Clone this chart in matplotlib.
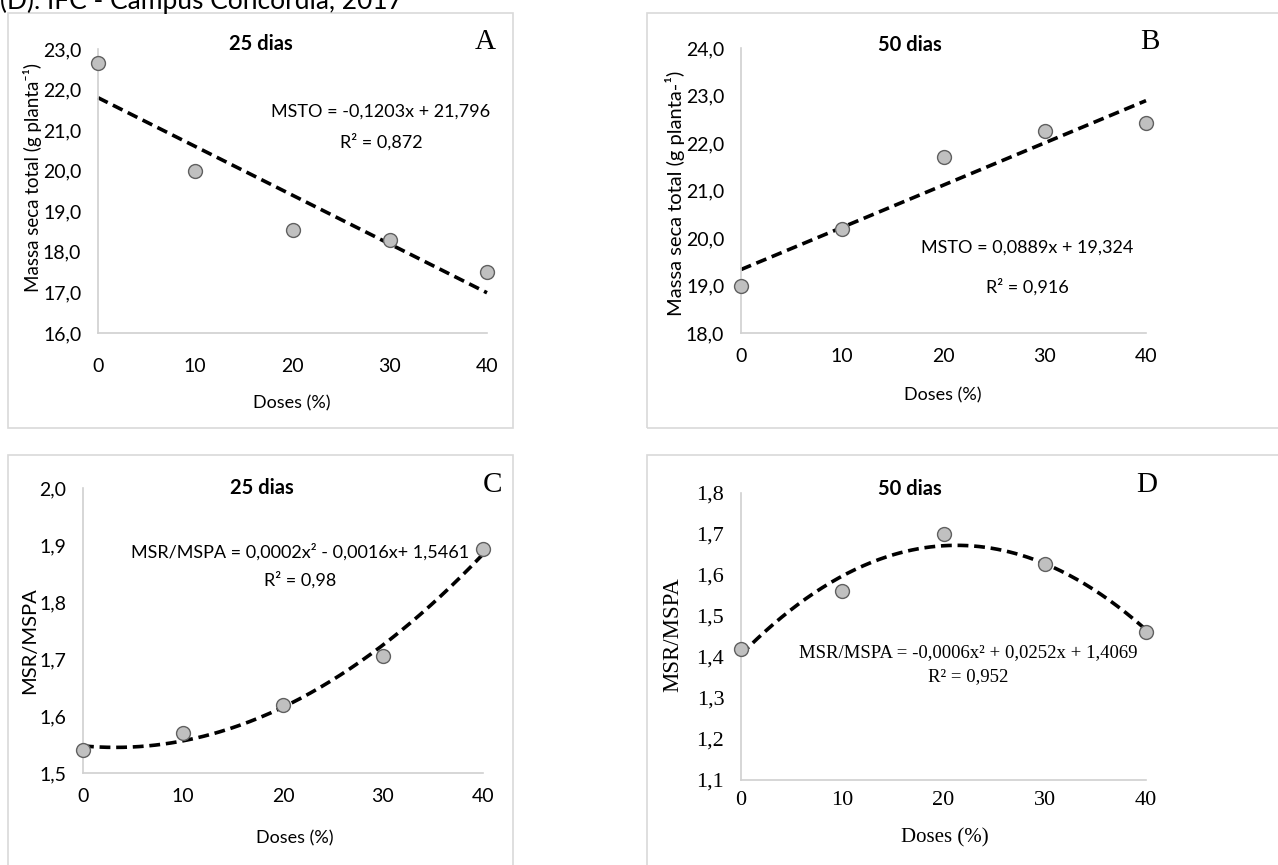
import numpy as np
import matplotlib.pyplot as plt
from matplotlib.patches import Rectangle
from matplotlib.ticker import FixedLocator

W, H = 1278, 865

# dados
doses = [0, 10, 20, 30, 40]
msto_25 = [22.65, 20.0, 18.55, 18.28, 17.5]
msto_50 = [19.0, 20.2, 21.7, 22.25, 22.42]
rel_25 = [1.54, 1.57, 1.62, 1.705, 1.893]
rel_50 = [1.42, 1.56, 1.70, 1.627, 1.462]

yt_a = [16.0, 17.0, 18.0, 19.0, 20.0, 21.0, 22.0, 23.0]
yt_b = [18.0, 19.0, 20.0, 21.0, 22.0, 23.0, 24.0]
yt_c = [1.5, 1.6, 1.7, 1.8, 1.9, 2.0]
yt_d = [1.1, 1.2, 1.3, 1.4, 1.5, 1.6, 1.7, 1.8]

SANS = ['Lato', 'DejaVu Sans']
SERIF = ['Liberation Serif', 'DejaVu Serif']
GRID = '#d0d0d0'


def px_axes(fig, x0, y0, x1, y1):
    # coordenadas em pixels (origem no topo)
    return fig.add_axes([x0 / W, 1 - y1 / H, (x1 - x0) / W, (y1 - y0) / H])


def ftext(fig, x, y, s, **kw):
    fig.text(x / W, 1 - y / H, s, **kw)


def painel(fig, box, ax_px, y, yticks, deg, fam, xpad, ylabel, ylab_pos,
           title, title_pos, letter, letter_pos, eq, eq_pos, r2, r2_pos,
           xlab_pos, tsize=14, eqsize=13, ylsize=13.5, xlsize=13):
    bx0, by0, bx1, by1 = box
    fig.patches.append(Rectangle((bx0 / W, 1 - by1 / H), (bx1 - bx0) / W,
                                 (by1 - by0) / H, transform=fig.transFigure,
                                 fill=False, edgecolor='#d9d9d9', lw=1.2))
    ax = px_axes(fig, *ax_px)
    ax.set_xlim(0, 40)
    ax.set_ylim(yticks[0], yticks[-1])
    for s in ['top', 'right']:
        ax.spines[s].set_visible(False)
    for s in ['left', 'bottom']:
        ax.spines[s].set_color(GRID)
        ax.spines[s].set_linewidth(1.2)
    ax.xaxis.set_major_locator(FixedLocator(doses))
    ax.yaxis.set_major_locator(FixedLocator(yticks))
    ax.set_xticklabels([str(d) for d in doses], family=fam, fontsize=tsize)
    ax.set_yticklabels([f'{v:.1f}'.replace('.', ',') for v in yticks],
                       family=fam, fontsize=tsize)
    ax.tick_params(axis='both', length=0)
    ax.tick_params(axis='x', pad=xpad)
    ax.tick_params(axis='y', pad=12)

    coef = np.polyfit(doses, y, deg)
    xs = np.linspace(0, 40, 200)
    ax.plot(xs, np.polyval(coef, xs), color='black', lw=2.6,
            dashes=(3, 1.6), clip_on=False, zorder=2)
    ax.plot(doses, y, 'o', ms=10, mfc='#c0c0c0', mec='#606060', mew=1.0,
            clip_on=False, zorder=3)

    ftext(fig, *title_pos, title, family=SANS, fontsize=14.5,
          fontweight='bold', ha='center', va='center')
    ftext(fig, *letter_pos, letter, family=SERIF, fontsize=21,
          ha='center', va='center')
    ftext(fig, *eq_pos, eq, family=fam, fontsize=eqsize, ha='center',
          va='center')
    ftext(fig, *r2_pos, r2, family=fam, fontsize=eqsize, ha='center',
          va='center')
    ftext(fig, *ylab_pos, ylabel, family=fam, fontsize=ylsize, rotation=90,
          ha='center', va='center')
    ftext(fig, *xlab_pos, 'Doses (%)', family=fam, fontsize=xlsize,
          ha='center', va='center')
    return ax


fig = plt.figure(figsize=(W / 100, H / 100), dpi=100)

ftext(fig, 0, 9, '(D). IFC - Campus Concórdia, 2017', family=SANS,
      fontsize=19, ha='left', va='baseline')

painel(fig, (8, 13, 513, 428), (98, 49, 487, 333), msto_25, yt_a, 1, SANS,
       18, 'Massa seca total (g planta⁻¹)', (33, 177),
       '25 dias', (261, 44), 'A', (485, 42),
       'MSTO = -0,1203x + 21,796', (381, 112), 'R² = 0,872', (381, 142),
       (292, 403), ylsize=13.5)

painel(fig, (647, 13, 1290, 428), (741, 48, 1146, 333), msto_50, yt_b, 1,
       SANS, 11, 'Massa seca total (g planta-¹)', (675, 193),
       '50 dias', (910, 45), 'B', (1150, 42),
       'MSTO = 0,0889x + 19,324', (1027, 248), 'R² = 0,916', (1027, 287),
       (943, 395), ylsize=14.5)

painel(fig, (8, 455, 513, 880), (83, 488, 483, 773), rel_25, yt_c, 2, SANS,
       11, 'MSR/MSPA', (30, 641),
       '25 dias', (262, 488), 'C', (493, 485),
       'MSR/MSPA = 0,0002x² - 0,0016x+ 1,5461', (300, 552),
       'R² = 0,98', (300, 580), (295, 838), ylsize=14.5)

painel(fig, (647, 455, 1290, 880), (741, 493, 1146, 780), rel_50, yt_d, 2,
       SERIF, 8, 'MSR/MSPA', (673, 635),
       '50 dias', (910, 489), 'D', (1147, 485),
       'MSR/MSPA = -0,0006x² + 0,0252x + 1,4069', (968, 653),
       'R² = 0,952', (968, 677), (945, 838),
       tsize=16, eqsize=13.5, ylsize=16.5, xlsize=15)

fig.savefig('out.png', dpi=100)
